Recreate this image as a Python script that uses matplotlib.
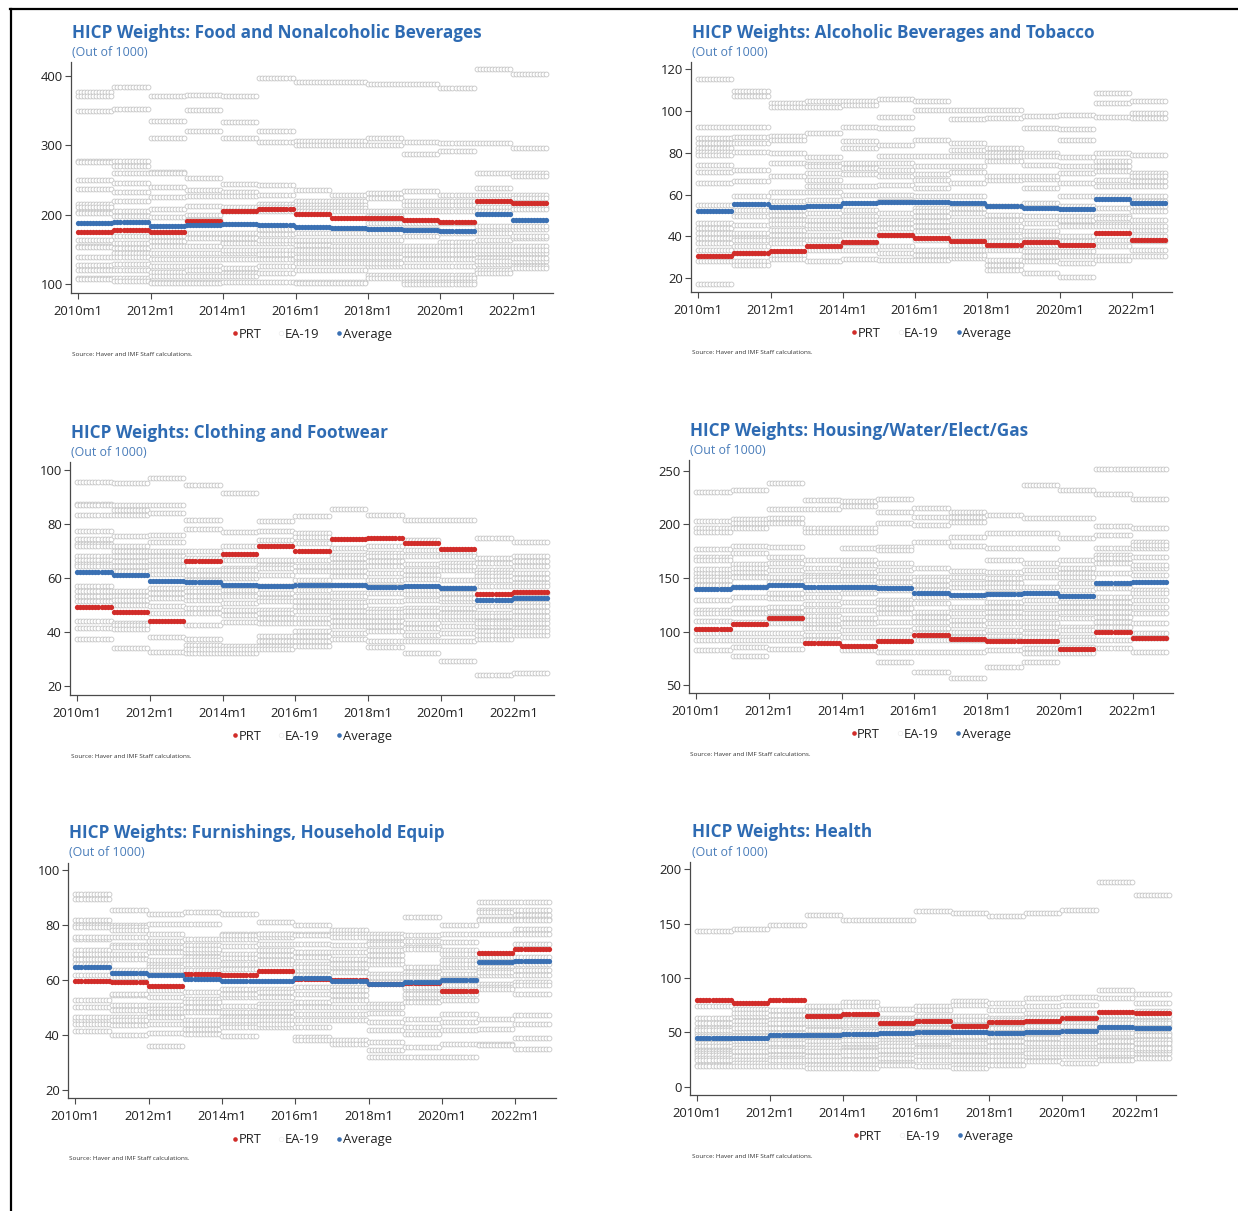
import numpy as np
import matplotlib
matplotlib.use("Agg")
import matplotlib.pyplot as plt
from matplotlib.lines import Line2D

plt.rcParams['font.family'] = ['Open Sans', 'DejaVu Sans']

YEARS = list(range(2010, 2023))
TICK_LABELS = ["2010m1", "2012m1", "2014m1", "2016m1", "2018m1", "2020m1", "2022m1"]

# ---------------- Food and Nonalcoholic Beverages ----------------
food_prt = [175.5, 178, 175, 191, 205, 209, 200.5, 196, 195, 193, 190, 220.6, 217]
food_avg = [188, 189.5, 184, 185, 186.5, 185, 183, 181, 180, 178, 177, 200.5, 193]
food_ea = [
    [377, 371, 350, 278, 276, 250, 237, 216, 212, 204, 202, 164, 155, 153, 139, 128, 121, 109, 107],
    [384, 353, 277, 270, 260, 246, 233, 220, 205, 198, 169, 159, 152, 145, 139, 129, 121, 109, 105],
    [371, 335, 310, 262, 260, 240, 225, 209, 197, 169, 162, 155, 145, 137, 127, 118, 112, 104, 102],
    [372, 351, 320, 253, 236, 227, 213, 200, 174, 166, 155, 145, 136, 126, 121, 112, 104, 102, 193],
    [371, 334, 310, 245, 233, 227, 212, 205, 174, 161, 159, 145, 136, 124, 116, 112, 104, 167, 150],
    [397, 320, 305, 243, 229, 216, 212, 205, 172, 159, 145, 136, 126, 116, 104, 179, 150, 143, 164],
    [391, 307, 301, 236, 220, 214, 210, 205, 164, 157, 145, 136, 120, 104, 102, 174, 150, 140, 131],
    [391, 307, 301, 229, 220, 214, 210, 205, 164, 155, 145, 136, 120, 104, 102, 174, 150, 140, 131],
    [388, 311, 300, 232, 224, 205, 198, 188, 164, 155, 145, 136, 126, 114, 109, 174, 150, 140, 131],
    [389, 305, 287, 234, 220, 214, 205, 188, 169, 155, 150, 143, 136, 126, 114, 109, 104, 100, 179],
    [383, 304, 292, 228, 220, 214, 205, 188, 161, 155, 150, 143, 136, 126, 114, 109, 104, 100, 174],
    [410, 304, 260, 239, 228, 212, 205, 179, 174, 164, 155, 145, 138, 129, 121, 116, 184, 150, 133],
    [403, 296, 260, 256, 229, 224, 212, 208, 179, 166, 155, 145, 133, 126, 124, 150, 138, 184, 169],
]

# ---------------- Alcoholic Beverages and Tobacco ----------------
alc_prt = [30.7, 32.3, 32.9, 35.5, 37.2, 40.7, 39.3, 37.9, 36.0, 37.2, 35.8, 41.8, 38.2]
alc_avg = [52.4, 55.5, 54.1, 54.7, 56.0, 56.7, 56.7, 56.2, 54.6, 53.5, 53.0, 58.1, 55.9]
alc_ea = [
    [115.4, 92.2, 86.8, 84.7, 82.3, 80.4, 78.8, 74.3, 70.7, 65.6, 54.9, 46.5, 44.1, 41.7, 39.3, 36.9, 33.7, 28.2, 17.3],
    [109.4, 107.3, 92.2, 87.5, 84.7, 80.2, 71.9, 66.7, 59.2, 52.8, 49.6, 45.7, 41.7, 39.3, 38.5, 35.3, 32.1, 28.2, 26.2],
    [103.5, 101.9, 87.9, 86.3, 79.9, 75.1, 68.8, 61.1, 52.8, 50.4, 48.1, 43.3, 40.9, 38.5, 36.9, 31.3, 29.4, 56.8, 46.1],
    [104.6, 101.9, 89.5, 78.0, 74.8, 70.4, 64.0, 61.1, 57.6, 51.2, 48.1, 44.1, 40.9, 38.5, 33.7, 28.2, 67.2, 73.5, 45.4],
    [104.6, 103.0, 92.2, 85.5, 82.3, 75.1, 70.0, 64.0, 60.0, 52.8, 49.6, 45.7, 43.3, 40.9, 36.9, 33.7, 29.3, 72.7, 48.1],
    [105.4, 97.0, 91.8, 83.9, 78.3, 71.9, 68.8, 64.6, 60.0, 56.8, 48.1, 46.5, 44.1, 40.9, 35.3, 32.1, 29.0, 75.1, 51.2],
    [104.9, 100.3, 86.3, 78.3, 69.6, 67.2, 63.2, 59.2, 49.6, 47.3, 44.9, 42.5, 38.5, 33.7, 31.3, 28.6, 53.6, 73.5, 52.0],
    [100.3, 96.1, 84.7, 78.3, 70.7, 65.6, 59.2, 51.2, 48.1, 43.3, 40.1, 36.1, 33.7, 29.7, 73.5, 53.6, 44.9, 81.5, 31.3],
    [100.3, 96.5, 82.3, 79.9, 75.9, 67.2, 54.4, 48.1, 43.3, 40.1, 33.7, 26.6, 24.2, 78.3, 68.8, 50.4, 44.9, 37.7, 29.0],
    [97.4, 91.8, 79.9, 74.3, 67.5, 63.2, 56.0, 49.6, 42.5, 38.5, 32.9, 28.2, 22.6, 78.3, 68.8, 46.5, 40.9, 36.1, 30.5],
    [98.2, 91.1, 86.0, 78.0, 70.4, 59.5, 49.6, 40.1, 32.9, 27.4, 20.7, 65.6, 73.5, 54.4, 47.3, 44.9, 37.7, 30.5, 48.1],
    [108.6, 103.8, 97.1, 79.9, 73.5, 71.1, 67.2, 64.0, 59.2, 53.6, 46.1, 44.9, 38.5, 30.5, 29.0, 49.6, 48.8, 75.9, 35.3],
    [104.6, 99.0, 96.6, 79.1, 70.4, 66.4, 64.0, 59.5, 54.4, 48.1, 43.3, 40.1, 33.7, 30.5, 52.0, 68.8, 56.8, 44.9, 37.7],
]

# ---------------- Clothing and Footwear ----------------
clo_prt = [49.4, 47.6, 44.2, 66.1, 68.7, 71.9, 70.1, 74.4, 74.6, 72.8, 70.6, 53.9, 54.7]
clo_avg = [62.1, 61.0, 59.0, 58.5, 57.4, 56.9, 57.5, 57.3, 56.7, 56.9, 56.2, 51.8, 52.6]
clo_ea = [
    [95.6, 87.2, 87.0, 83.3, 77.5, 74.4, 72.6, 68.0, 66.7, 65.3, 56.9, 53.5, 51.4, 44.2, 41.4, 37.3, 71.7, 64.3, 55.1],
    [95.0, 87.0, 83.3, 75.6, 71.7, 68.0, 64.3, 55.1, 53.3, 49.9, 43.4, 42.5, 41.0, 34.2, 66.1, 85.2, 52.0, 62.5, 69.8],
    [96.8, 87.0, 83.9, 76.0, 73.1, 68.0, 65.5, 64.3, 61.6, 56.3, 52.6, 49.6, 47.1, 38.3, 32.8, 69.8, 66.7, 63.1, 54.5],
    [94.4, 81.5, 78.2, 69.8, 62.8, 61.2, 56.3, 55.1, 52.0, 49.0, 47.1, 42.8, 37.3, 35.1, 32.4, 67.4, 59.4, 53.3, 33.6],
    [91.5, 76.8, 71.7, 63.7, 63.1, 60.0, 56.9, 54.2, 50.6, 46.5, 43.7, 34.8, 32.4, 66.7, 61.2, 53.3, 48.3, 33.6, 55.7],
    [81.1, 77.4, 73.9, 64.9, 61.2, 56.9, 52.6, 51.4, 48.3, 47.1, 43.4, 38.5, 34.8, 66.7, 63.7, 54.5, 45.3, 36.7, 33.6],
    [82.9, 76.6, 75.3, 66.7, 64.3, 59.4, 55.7, 53.3, 49.6, 47.7, 43.4, 40.4, 36.7, 34.8, 72.9, 62.5, 51.4, 45.3, 38.5],
    [85.4, 71.0, 65.5, 64.3, 60.6, 54.5, 51.0, 49.6, 47.7, 42.2, 37.3, 68.6, 62.5, 57.5, 53.3, 45.9, 44.0, 39.8, 67.4],
    [83.3, 71.9, 69.2, 68.0, 64.3, 59.4, 54.5, 48.6, 47.5, 44.0, 40.4, 36.7, 34.5, 51.4, 56.9, 66.1, 61.8, 45.9, 42.2],
    [81.5, 74.1, 68.0, 65.3, 61.2, 59.6, 55.7, 52.0, 49.0, 45.9, 43.4, 39.1, 32.4, 70.4, 63.1, 53.9, 47.7, 41.6, 36.7],
    [81.5, 69.2, 65.5, 63.1, 59.4, 54.5, 51.4, 49.0, 44.7, 42.2, 36.7, 29.3, 68.0, 64.3, 56.3, 52.6, 47.1, 39.8, 45.9],
    [74.7, 67.4, 63.1, 61.8, 56.9, 47.1, 45.3, 44.0, 42.2, 40.4, 37.3, 24.0, 65.5, 60.6, 59.4, 49.6, 45.9, 43.4, 39.1],
    [73.1, 68.0, 64.3, 61.8, 58.2, 50.8, 47.7, 44.7, 43.2, 41.6, 39.1, 25.0, 66.1, 60.0, 54.5, 49.6, 45.9, 40.4, 56.9],
]

# ---------------- Housing/Water/Elect/Gas ----------------
hou_prt = [102.9, 106.9, 112.8, 89.2, 87.1, 91.4, 96.7, 93.6, 91.4, 91.1, 84.3, 99.5, 93.9]
hou_avg = [139.5, 141.9, 143.8, 141.9, 141.6, 140.7, 136.0, 134.2, 134.8, 136.0, 133.3, 145.0, 146.0]
hou_ea = [
    [230.3, 203.3, 196.2, 192.5, 176.7, 169.8, 166.7, 154.3, 151.2, 148.1, 129.5, 120.2, 117.1, 110.3, 98.5, 92.3, 83.0, 158.1, 143.5],
    [232.5, 204.6, 200.9, 196.2, 179.8, 172.9, 163.0, 155.9, 151.2, 132.6, 121.8, 117.1, 109.4, 98.5, 92.3, 86.1, 77.4, 159.0, 141.9],
    [238.7, 213.9, 206.4, 200.9, 179.2, 169.8, 163.6, 157.4, 151.2, 131.1, 123.3, 114.0, 107.8, 98.5, 92.3, 83.6, 135.7, 146.6, 118.7],
    [222.6, 213.9, 196.2, 193.1, 166.7, 159.0, 152.8, 151.2, 138.8, 125.5, 120.2, 114.7, 107.8, 103.2, 97.0, 92.3, 148.1, 132.6, 110.9],
    [221.6, 217.0, 196.2, 193.1, 177.6, 166.7, 162.1, 155.9, 151.2, 135.7, 128.0, 120.2, 112.5, 101.6, 95.4, 83.0, 148.1, 141.9, 107.8],
    [224.1, 211.7, 200.9, 179.2, 176.0, 163.6, 157.4, 151.2, 129.5, 126.4, 117.1, 109.4, 101.6, 95.4, 81.5, 72.2, 146.6, 138.8, 121.8],
    [215.7, 207.1, 199.3, 183.8, 159.0, 151.2, 143.5, 127.1, 118.7, 114.0, 109.4, 103.2, 98.5, 92.3, 81.5, 62.9, 132.6, 138.8, 148.1],
    [211.7, 207.1, 202.4, 188.4, 179.8, 156.8, 151.2, 141.9, 123.3, 117.1, 110.9, 106.3, 100.1, 95.4, 81.5, 56.7, 145.0, 132.6, 92.3],
    [208.6, 192.2, 177.6, 166.7, 155.9, 149.7, 145.0, 128.0, 118.7, 114.0, 107.8, 101.6, 96.0, 92.3, 83.0, 67.5, 141.9, 135.7, 123.3],
    [236.5, 206.4, 192.2, 177.6, 164.3, 157.4, 151.2, 141.9, 117.1, 114.0, 107.8, 98.5, 95.4, 84.6, 72.2, 129.5, 123.3, 104.7, 79.9],
    [232.5, 205.5, 186.9, 166.7, 159.0, 154.3, 145.0, 128.0, 123.3, 118.7, 104.7, 101.6, 95.4, 92.3, 86.1, 79.9, 138.8, 151.2, 112.5],
    [252.0, 228.1, 198.4, 190.0, 177.6, 171.4, 163.6, 154.3, 132.6, 128.0, 123.3, 114.0, 109.4, 104.7, 92.3, 84.6, 168.3, 140.4, 118.7],
    [251.4, 224.1, 196.2, 183.8, 177.6, 169.8, 159.2, 152.8, 138.8, 129.5, 123.3, 117.1, 98.5, 93.9, 81.5, 180.7, 162.1, 135.7, 107.8],
]

# ---------------- Furnishings, Household Equip ----------------
fur_prt = [59.6, 59.5, 57.9, 62.4, 61.9, 63.4, 60.5, 60.0, 58.8, 59.0, 56.2, 69.9, 71.5]
fur_avg = [64.8, 62.8, 61.8, 60.5, 59.9, 59.9, 60.7, 59.9, 58.7, 59.4, 60.2, 66.8, 66.9]
fur_ea = [
    [91.5, 89.7, 81.8, 80.0, 79.4, 75.2, 70.9, 69.1, 67.9, 61.8, 52.7, 50.3, 45.5, 44.2, 41.5, 75.8, 69.7, 66.1, 46.7],
    [85.5, 80.0, 79.4, 75.8, 72.7, 67.9, 63.9, 54.5, 50.9, 49.1, 46.7, 43.6, 40.0, 78.2, 69.7, 61.2, 55.2, 45.5, 72.1],
    [84.0, 80.4, 77.0, 74.3, 70.3, 66.1, 64.8, 56.4, 53.9, 50.9, 49.7, 46.7, 40.8, 36.0, 72.1, 67.3, 48.5, 44.2, 63.6],
    [84.8, 80.4, 75.2, 72.7, 70.3, 68.5, 67.3, 63.9, 53.3, 52.1, 50.3, 48.5, 45.5, 42.4, 40.6, 71.5, 66.1, 55.8, 44.2],
    [84.2, 77.0, 75.2, 72.4, 69.7, 68.2, 66.1, 57.0, 53.9, 50.5, 48.5, 44.2, 43.0, 39.6, 76.4, 64.2, 55.2, 46.7, 45.5],
    [81.2, 77.0, 75.8, 70.9, 67.3, 65.8, 57.0, 55.8, 51.3, 50.3, 48.5, 46.7, 43.0, 77.0, 73.3, 69.1, 53.9, 45.5, 44.2],
    [80.0, 77.0, 73.3, 70.3, 65.8, 63.6, 61.8, 57.6, 55.2, 52.1, 50.3, 47.9, 43.0, 39.4, 38.2, 76.4, 68.5, 64.8, 45.5],
    [78.4, 77.0, 75.8, 72.7, 70.3, 67.3, 64.8, 63.0, 57.6, 56.4, 52.7, 50.3, 47.9, 45.5, 38.2, 36.7, 67.9, 54.5, 66.1],
    [77.0, 75.8, 73.9, 70.9, 69.1, 66.1, 62.4, 59.4, 51.5, 48.1, 44.8, 41.8, 37.6, 34.5, 32.1, 73.3, 67.3, 61.2, 50.3],
    [83.0, 76.4, 74.5, 72.1, 71.5, 64.8, 63.0, 61.8, 57.0, 53.9, 52.1, 46.1, 43.0, 35.8, 32.1, 57.6, 55.2, 40.6, 61.2],
    [80.0, 77.0, 73.9, 70.9, 67.3, 64.8, 62.4, 60.6, 55.2, 52.7, 47.9, 44.8, 42.1, 37.0, 32.1, 69.7, 66.1, 57.6, 58.2],
    [88.5, 85.7, 82.4, 77.0, 67.3, 64.8, 63.6, 61.8, 58.8, 57.6, 57.0, 46.1, 42.4, 37.0, 36.4, 68.5, 63.0, 81.8, 84.8],
    [88.5, 85.5, 83.6, 82.4, 78.8, 73.3, 68.5, 63.6, 61.8, 59.4, 55.2, 47.3, 44.2, 39.2, 35.2, 66.1, 58.2, 81.8, 77.0],
]

# ---------------- Health ----------------
hea_prt = [80.0, 77.3, 79.7, 65.0, 66.8, 58.6, 60.7, 56.1, 59.5, 60.1, 62.9, 69.0, 67.5]
hea_avg = [44.5, 45.1, 47.9, 47.9, 48.5, 49.1, 50.0, 50.0, 49.4, 50.6, 50.9, 55.2, 54.3]
hea_ea = [
    [142.8, 73.9, 63.2, 58.6, 54.0, 49.4, 43.3, 40.2, 37.1, 34.1, 32.5, 31.0, 29.5, 26.4, 24.9, 20.3, 18.8, 46.3, 52.4],
    [144.9, 71.4, 64.7, 60.1, 57.0, 50.9, 46.3, 41.7, 38.7, 34.1, 31.0, 28.0, 24.9, 21.8, 18.8, 67.8, 54.0, 35.6, 32.5],
    [148.9, 70.2, 66.2, 61.6, 57.0, 54.0, 49.4, 43.3, 40.2, 35.6, 32.5, 29.5, 26.4, 21.8, 18.8, 58.6, 46.3, 34.1, 24.9],
    [158.1, 73.9, 69.3, 61.6, 57.0, 52.4, 44.8, 41.7, 38.7, 34.1, 31.0, 28.0, 24.9, 20.3, 17.2, 58.6, 46.3, 35.6, 32.5],
    [153.5, 77.6, 73.9, 66.2, 61.6, 57.0, 50.9, 44.8, 40.2, 35.6, 34.1, 29.5, 24.9, 20.3, 17.2, 58.6, 46.3, 32.5, 43.3],
    [153.5, 71.4, 63.2, 58.6, 54.0, 47.9, 43.3, 40.2, 37.1, 32.5, 29.5, 24.9, 19.7, 46.3, 49.4, 52.4, 34.1, 26.4, 61.6],
    [161.8, 73.9, 70.8, 64.7, 58.6, 54.0, 47.9, 43.3, 40.2, 35.6, 31.0, 28.0, 24.9, 18.8, 44.8, 50.9, 34.1, 61.6, 41.7],
    [159.6, 78.5, 75.4, 64.7, 60.1, 55.5, 49.4, 44.8, 41.7, 37.1, 32.5, 28.0, 24.9, 20.3, 17.2, 46.3, 40.2, 34.1, 61.6],
    [156.6, 76.9, 70.2, 63.2, 58.6, 54.0, 46.3, 43.3, 40.2, 35.6, 31.0, 28.0, 24.9, 20.3, 49.4, 41.7, 34.1, 61.6, 37.1],
    [159.6, 81.5, 73.9, 67.8, 63.2, 58.6, 54.0, 46.3, 41.7, 37.1, 32.5, 28.0, 23.4, 44.8, 49.4, 34.1, 31.0, 40.2, 55.5],
    [162.7, 82.5, 75.4, 67.8, 61.6, 58.6, 54.0, 47.9, 43.3, 37.1, 32.5, 28.0, 21.8, 46.3, 49.4, 34.1, 31.0, 40.2, 55.5],
    [188.7, 88.6, 81.5, 66.2, 61.6, 57.0, 52.4, 46.3, 43.3, 38.7, 32.5, 29.5, 24.9, 41.7, 49.4, 34.1, 31.0, 37.1, 58.6],
    [176.5, 85.5, 76.9, 69.3, 64.7, 60.1, 55.5, 49.4, 44.8, 41.7, 37.1, 31.0, 26.4, 43.3, 47.9, 34.1, 40.2, 35.6, 58.6],
]

TITLES = [
    "HICP Weights: Food and Nonalcoholic Beverages",
    "HICP Weights: Alcoholic Beverages and Tobacco",
    "HICP Weights: Clothing and Footwear",
    "HICP Weights: Housing/Water/Elect/Gas",
    "HICP Weights: Furnishings, Household Equip",
    "HICP Weights: Health",
]
YTICKS = [
    [100, 200, 300, 400],
    [20, 40, 60, 80, 100, 120],
    [20, 40, 60, 80, 100],
    [50, 100, 150, 200, 250],
    [20, 40, 60, 80, 100],
    [0, 50, 100, 150, 200],
]
SERIES = [
    (food_prt, food_avg, food_ea),
    (alc_prt, alc_avg, alc_ea),
    (clo_prt, clo_avg, clo_ea),
    (hou_prt, hou_avg, hou_ea),
    (fur_prt, fur_avg, fur_ea),
    (hea_prt, hea_avg, hea_ea),
]

# layout: axes box in pixels (left, top, right, bottom) and y-range
W, H = 1238, 1211
BOXES = [
    (71, 62, 553, 293, (87.5, 420)),
    (691, 62, 1172, 292, (13.5, 123.3)),
    (70, 462, 554, 695, (16.8, 102.8)),
    (689, 460, 1173, 693, (42.9, 260)),
    (68, 863, 556, 1098, (17.2, 102.7)),
    (690, 862, 1176, 1095, (-7.6, 206.7)),
]
TITLE_POS = [(72, 32, 51), (692, 32, 51), (71, 432, 451), (690, 430, 449), (69, 832, 852), (692, 831, 851)]

RED = "#D12C29"
BLUE = "#3A70B3"
GRAY_EDGE = "#C6C6C6"
TITLE_BLUE = "#2E6BB3"
SUB_BLUE = "#4A7DBA"
AX_COLOR = "#4A4A4A"
MS = 3.8

n_months = len(YEARS) * 12
months = np.arange(n_months)
xtick_pos = [24 * i for i in range(len(TICK_LABELS))]

fig = plt.figure(figsize=(W / 100, H / 100), dpi=100)

for i, (prt, avg, ea) in enumerate(SERIES):
    l, t, r, b, ylim = BOXES[i]
    ax = fig.add_axes([l / W, 1 - b / H, (r - l) / W, (b - t) / H])

    # EA-19 member countries: one hollow marker per month
    for k, vals in enumerate(ea):
        xm = months[k * 12:(k + 1) * 12]
        for v in vals:
            ax.plot(xm, np.full(12, v), linestyle="none", marker="o", markersize=3.5,
                    markerfacecolor="white", markeredgecolor=GRAY_EDGE,
                    markeredgewidth=0.6, zorder=1)

    ax.plot(months, np.repeat(prt, 12), linestyle="none", marker="o", markersize=MS,
            color=RED, markeredgewidth=0, zorder=3)
    ax.plot(months, np.repeat(avg, 12), linestyle="none", marker="o", markersize=MS,
            color=BLUE, markeredgewidth=0, zorder=4)

    ax.set_xlim(-2.4, 157.3)
    ax.set_ylim(*ylim)
    ax.set_xticks(xtick_pos)
    ax.set_xticklabels(TICK_LABELS)
    ax.set_yticks(YTICKS[i])
    for s in ("top", "right"):
        ax.spines[s].set_visible(False)
    for s in ("left", "bottom"):
        ax.spines[s].set_color(AX_COLOR)
        ax.spines[s].set_linewidth(0.9)
    ax.tick_params(axis="both", colors=AX_COLOR, labelcolor="#222222", labelsize=9.4,
                   length=4, width=0.8)
    ax.tick_params(axis="x", pad=4.5)
    ax.tick_params(axis="y", pad=2)

    handles = [
        Line2D([], [], linestyle="none", marker="o", markersize=3.3, color=RED, markeredgewidth=0),
        Line2D([], [], linestyle="none", marker="o", markersize=3.3, markerfacecolor="white",
               markeredgecolor="#EDEDED", markeredgewidth=0.5),
        Line2D([], [], linestyle="none", marker="o", markersize=3.3, color=BLUE, markeredgewidth=0),
    ]
    ax.legend(handles, ["PRT", "EA-19", "Average"], loc="upper center",
              bbox_to_anchor=(0.5, -0.10), ncol=3, frameon=False, fontsize=9.4,
              handlelength=0.35, handletextpad=0.1, columnspacing=1.35,
              labelcolor="#222222")

    tx, ty, sy = TITLE_POS[i]
    fig.text(tx / W, 1 - (ty + 1) / H, TITLES[i], fontsize=12.3, fontweight="bold",
             color=TITLE_BLUE, va="center", ha="left")
    fig.text(tx / W, 1 - (sy + 1) / H, "(Out of 1000)", fontsize=8.9, color=SUB_BLUE,
             va="center", ha="left")
    fig.text(tx / W, 1 - (b + 61) / H, "Source: Haver and IMF Staff calculations.",
             fontsize=4.6, color="#333333", va="center", ha="left")

# frame lines on the top and left edges
fig.add_artist(Line2D([10 / W, 1], [1 - 9 / H, 1 - 9 / H], color="black", linewidth=1.6,
                      transform=fig.transFigure))
fig.add_artist(Line2D([11 / W, 11 / W], [1 - 9 / H, 0], color="black", linewidth=1.6,
                      transform=fig.transFigure))

fig.savefig("out.png", dpi=100, facecolor="white")
